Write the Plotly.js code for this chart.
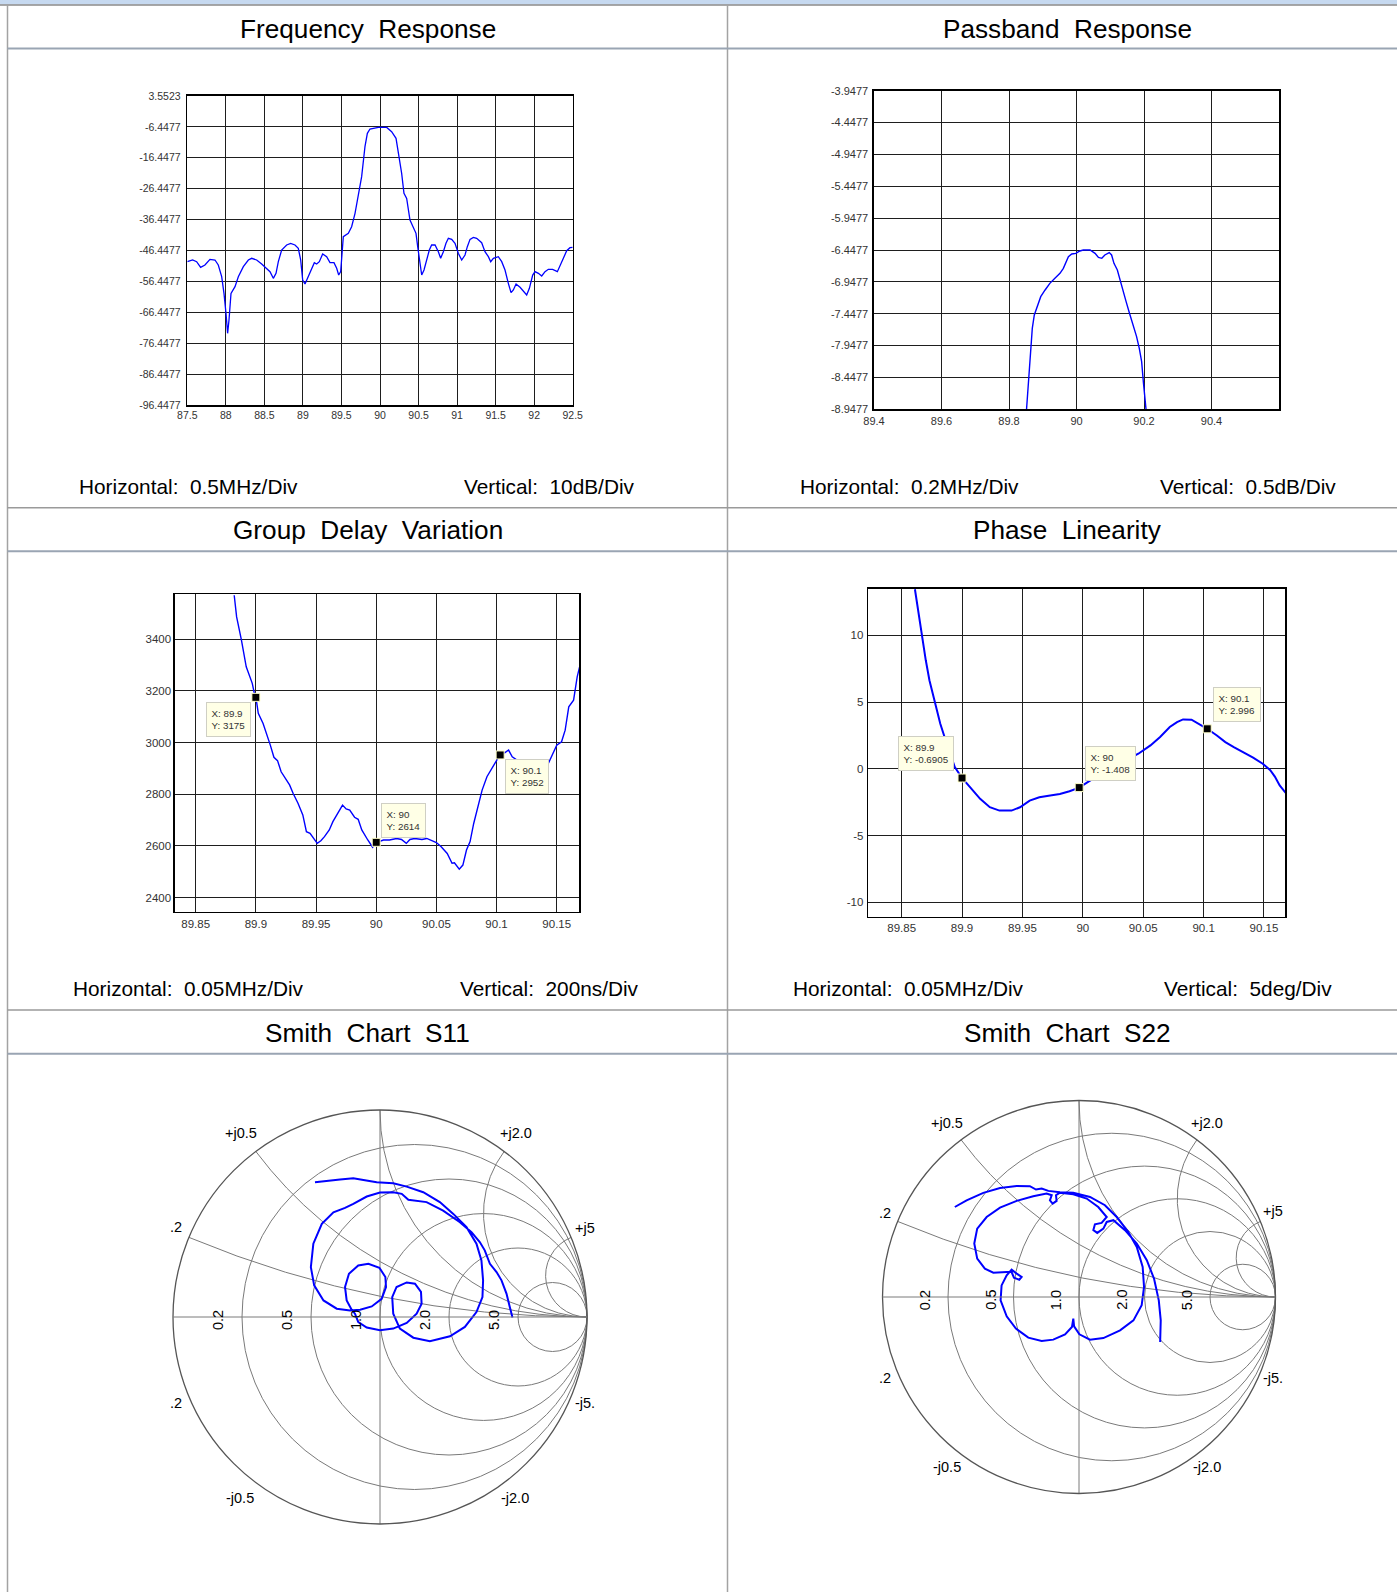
<!DOCTYPE html>
<html>
<head>
<meta charset="utf-8">
<script src="https://cdn.plot.ly/plotly-3.0.1.min.js"></script>
<style>
  html, body { margin: 0; padding: 0; background: #ffffff; }
  #chart { width: 1397px; height: 1592px; }
</style>
</head>
<body>
<div id="chart"></div>
<script>
// ---------------- DATA ----------------
// Frequency Response (MHz, dB)
const freqMHz = [87.500,87.569,87.621,87.673,87.729,87.794,87.859,87.902,87.946,87.976,88.002,88.023,88.041,88.067,88.119,88.162,88.227,88.292,88.335,88.400,88.465,88.529,88.573,88.616,88.651,88.681,88.724,88.789,88.841,88.897,88.940,88.971,88.997,89.027,89.070,89.113,89.148,89.178,89.213,89.256,89.308,89.351,89.403,89.438,89.464,89.490,89.524,89.589,89.632,89.676,89.719,89.762,89.805,89.836,89.870,89.978,90.087,90.151,90.208,90.238,90.281,90.311,90.346,90.389,90.433,90.467,90.489,90.519,90.541,90.571,90.606,90.640,90.670,90.714,90.757,90.787,90.822,90.856,90.887,90.930,90.973,91.016,91.060,91.103,91.133,91.168,91.211,91.254,91.319,91.362,91.406,91.436,91.471,91.535,91.579,91.622,91.665,91.700,91.730,91.765,91.817,91.860,91.903,91.938,91.981,92.011,92.055,92.098,92.141,92.184,92.240,92.301,92.336,92.379,92.422,92.465,92.500];
const freqDb = [-50.06,-49.52,-50.06,-51.89,-51.14,-49.31,-49.52,-51.14,-54.92,-60.31,-66.78,-73.25,-68.94,-60.31,-58.15,-54.92,-51.68,-49.52,-48.98,-49.52,-50.82,-52.22,-53.30,-55.45,-53.84,-50.06,-46.29,-44.67,-44.13,-44.67,-45.75,-49.52,-56.00,-57.29,-54.92,-52.22,-50.38,-50.82,-50.06,-47.58,-48.44,-50.38,-50.38,-52.22,-54.38,-53.30,-41.97,-40.89,-38.74,-34.42,-27.95,-22.55,-12.84,-8.53,-7.13,-6.62,-6.62,-7.99,-10.15,-15.00,-21.48,-27.95,-29.57,-36.58,-38.74,-40.89,-45.21,-51.68,-54.38,-52.76,-49.52,-46.29,-44.67,-44.67,-46.83,-48.98,-46.83,-44.13,-42.51,-42.83,-44.13,-47.36,-49.52,-47.90,-45.21,-42.83,-42.19,-42.51,-43.91,-46.83,-48.44,-50.06,-48.98,-48.44,-50.06,-52.76,-57.07,-60.09,-59.23,-57.29,-58.37,-59.77,-60.85,-58.69,-54.38,-53.30,-53.84,-54.70,-53.30,-52.54,-52.54,-53.30,-51.14,-48.98,-46.50,-45.53,-45.42];
const freqXTicks = [87.5,88,88.5,89,89.5,90,90.5,91,91.5,92,92.5];
const freqXText = ['87.5','88','88.5','89','89.5','90','90.5','91','91.5','92','92.5'];
const freqYTicks = [-96.4477,-86.4477,-76.4477,-66.4477,-56.4477,-46.4477,-36.4477,-26.4477,-16.4477,-6.4477,3.5523];
const freqYText = ['-96.4477','-86.4477','-76.4477','-66.4477','-56.4477','-46.4477','-36.4477','-26.4477','-16.4477','-6.4477','3.5523'];

// Passband Response (MHz, dB)
const passMHz = [89.852,89.857,89.862,89.869,89.875,89.884,89.894,89.907,89.921,89.936,89.951,89.961,89.969,89.976,89.986,89.998,90.010,90.020,90.040,90.055,90.065,90.075,90.084,90.097,90.104,90.111,90.121,90.129,90.137,90.147,90.157,90.166,90.178,90.186,90.193,90.198,90.203,90.206];
const passDb = [-8.948,-8.566,-8.043,-7.677,-7.468,-7.337,-7.180,-7.075,-6.971,-6.892,-6.814,-6.735,-6.631,-6.552,-6.511,-6.500,-6.463,-6.448,-6.448,-6.500,-6.563,-6.578,-6.526,-6.489,-6.526,-6.657,-6.761,-6.918,-7.101,-7.258,-7.441,-7.598,-7.807,-7.990,-8.200,-8.513,-8.827,-8.948];
const passXTicks = [89.4,89.6,89.8,90,90.2,90.4];
const passXText = ['89.4','89.6','89.8','90','90.2','90.4'];
const passYTicks = [-8.9477,-8.4477,-7.9477,-7.4477,-6.9477,-6.4477,-5.9477,-5.4477,-4.9477,-4.4477,-3.9477];
const passYText = ['-8.9477','-8.4477','-7.9477','-7.4477','-6.9477','-6.4477','-5.9477','-5.4477','-4.9477','-4.4477','-3.9477'];

// Group Delay Variation (MHz, ns)
const gdMHz = [89.882,89.884,89.888,89.892,89.897,89.899,89.900,89.902,89.906,89.909,89.912,89.915,89.918,89.921,89.925,89.928,89.931,89.935,89.939,89.942,89.945,89.948,89.951,89.954,89.957,89.961,89.964,89.968,89.972,89.975,89.978,89.982,89.985,89.988,89.991,89.993,89.997,90.000,90.006,90.011,90.017,90.021,90.025,90.028,90.032,90.038,90.042,90.046,90.050,90.054,90.059,90.063,90.065,90.069,90.072,90.075,90.078,90.081,90.084,90.088,90.092,90.096,90.100,90.103,90.107,90.110,90.113,90.117,90.125,90.135,90.143,90.147,90.150,90.154,90.157,90.160,90.164,90.167,90.169];
const gdNs = [3570,3486,3396,3293,3229,3184,3176,3113,3074,3035,2990,2943,2930,2887,2855,2836,2803,2765,2720,2655,2649,2629,2610,2620,2636,2662,2694,2726,2758,2743,2739,2711,2703,2662,2636,2623,2595,2613,2623,2623,2629,2625,2610,2625,2629,2625,2629,2620,2613,2597,2571,2533,2535,2510,2526,2584,2617,2687,2739,2816,2868,2900,2932,2954,2961,2971,2945,2932,2919,2913,2919,2957,2990,3003,3048,3138,3164,3254,3293];
const gdMarkX = [89.9, 90.0, 90.103];
const gdMarkY = [3175, 2614, 2952];
const gdMarkXText = ['89.9', '90', '90.1'];
const gdXTicks = [89.85,89.9,89.95,90,90.05,90.1,90.15];
const gdXText = ['89.85','89.9','89.95','90','90.05','90.1','90.15'];
const gdYTicks = [2400,2600,2800,3000,3200,3400];

// Phase Linearity (MHz, deg)
const phMHz = [89.861,89.864,89.867,89.870,89.873,89.878,89.882,89.886,89.890,89.894,89.900,89.907,89.915,89.923,89.931,89.941,89.948,89.956,89.964,89.973,89.981,89.989,89.997,90.006,90.014,90.046,90.056,90.064,90.072,90.078,90.083,90.090,90.097,90.103,90.111,90.118,90.125,90.133,90.141,90.149,90.155,90.159,90.163,90.168];
const phDeg = [13.45,11.63,9.88,8.13,6.63,4.88,3.38,2.25,1.25,0.13,-0.69,-1.38,-2.25,-2.88,-3.13,-3.13,-2.88,-2.38,-2.13,-2.00,-1.88,-1.68,-1.41,-0.88,-0.38,1.13,1.75,2.38,3.13,3.50,3.70,3.68,3.33,3.00,2.50,2.00,1.63,1.25,0.83,0.38,-0.08,-0.58,-1.25,-1.80];
const phMarkX = [89.9, 89.997, 90.103];
const phMarkY = [-0.6905, -1.408, 2.996];
const phMarkXText = ['89.9', '90', '90.1'];
const phXTicks = [89.85,89.9,89.95,90,90.05,90.1,90.15];
const phXText = ['89.85','89.9','89.95','90','90.05','90.1','90.15'];
const phYTicks = [-10,-5,0,5,10];

// Smith charts: reflection coefficient (Gamma)
const s11Re = [-0.314,-0.193,-0.129,-0.080,-0.016,0.064,0.129,0.209,0.289,0.354,0.418,0.466,0.490,0.498,0.495,0.466,0.410,0.338,0.241,0.161,0.096,0.064,0.059,0.080,0.129,0.169,0.198,0.201,0.177,0.129,0.064,0.000,-0.064,-0.105,-0.121,-0.137,-0.161,-0.169,-0.150,-0.105,-0.056,-0.003,0.026,0.029,0.008,-0.040,-0.096,-0.145,-0.209,-0.273,-0.318,-0.334,-0.322,-0.281,-0.225,-0.169,-0.129,-0.064,0.000,0.064,0.105,0.137,0.225,0.305,0.386,0.442,0.482,0.506,0.531,0.563,0.587,0.611,0.627,0.640];
const s11Im = [0.651,0.664,0.670,0.662,0.651,0.646,0.630,0.603,0.555,0.498,0.434,0.354,0.273,0.177,0.096,0.024,-0.048,-0.093,-0.117,-0.100,-0.056,0.016,0.096,0.145,0.167,0.161,0.121,0.064,0.016,-0.029,-0.056,-0.064,-0.051,-0.024,0.016,0.035,0.080,0.145,0.209,0.249,0.257,0.238,0.193,0.145,0.088,0.051,0.035,0.032,0.040,0.080,0.153,0.241,0.354,0.450,0.506,0.527,0.547,0.582,0.601,0.603,0.595,0.566,0.555,0.514,0.458,0.410,0.362,0.322,0.257,0.217,0.177,0.113,0.048,-0.003];
const s22Re = [-0.632,-0.572,-0.487,-0.402,-0.317,-0.250,-0.219,-0.190,-0.156,-0.097,-0.029,0.056,0.132,0.192,0.251,0.294,0.324,0.331,0.319,0.277,0.209,0.124,0.056,0.002,-0.025,-0.029,-0.036,-0.071,-0.131,-0.190,-0.258,-0.321,-0.368,-0.399,-0.394,-0.368,-0.343,-0.317,-0.292,-0.304,-0.331,-0.343,-0.368,-0.436,-0.479,-0.518,-0.533,-0.518,-0.470,-0.402,-0.317,-0.233,-0.165,-0.139,-0.148,-0.134,-0.114,-0.117,-0.097,-0.029,0.039,0.098,0.141,0.115,0.081,0.073,0.093,0.124,0.141,0.175,0.234,0.294,0.345,0.382,0.406,0.416,0.413];
const s22Im = [0.458,0.492,0.530,0.555,0.565,0.564,0.547,0.552,0.540,0.533,0.530,0.509,0.467,0.407,0.331,0.255,0.153,0.051,-0.042,-0.119,-0.170,-0.209,-0.217,-0.190,-0.149,-0.110,-0.153,-0.190,-0.217,-0.224,-0.207,-0.161,-0.098,-0.017,0.059,0.110,0.139,0.119,0.102,0.088,0.098,0.127,0.127,0.124,0.144,0.195,0.272,0.348,0.407,0.455,0.489,0.513,0.526,0.518,0.492,0.475,0.489,0.518,0.531,0.523,0.501,0.458,0.407,0.377,0.370,0.340,0.326,0.348,0.382,0.391,0.340,0.272,0.187,0.093,-0.017,-0.119,-0.229];
const smithGrid = [0.2, 0.5, 1, 2, 5];
const smithRealLabels = ['0.2', '0.5', '1.0', '2.0', '5.0'];

// ---------------- HELPERS ----------------
const W = 1397, H = 1592;
const X = px => px / W;
const Y = py => 1 - py / H;
const FONT = 'Liberation Sans, Arial, Helvetica, sans-serif';

// Gamma -> normalized impedance, as needed by scattersmith
function toZ(gr, gi) {
  const re = [], im = [];
  for (let i = 0; i < gr.length; i++) {
    const a = gr[i], b = gi[i];
    const d = (1 - a) * (1 - a) + b * b;
    re.push((1 - a * a - b * b) / d);
    im.push((2 * b) / d);
  }
  return { re, im };
}

function axisX(l, r, range, tv, tt, fs, standoff, anchor) {
  return {
    domain: [X(l), X(r)], range: range, anchor: anchor,
    tickmode: 'array', tickvals: tv, ticktext: tt,
    showgrid: true, gridcolor: '#1e1e1e', gridwidth: 1,
    showline: true, mirror: true, linecolor: '#000', linewidth: 1.6,
    zeroline: false, ticks: '', ticklabelstandoff: standoff,
    tickfont: { family: FONT, size: fs, color: '#333' }, fixedrange: true
  };
}
function axisY(t, b, range, tv, tt, fs, standoff, anchor) {
  return {
    domain: [Y(b), Y(t)], range: range, anchor: anchor,
    tickmode: 'array', tickvals: tv, ticktext: tt,
    showgrid: true, gridcolor: '#1e1e1e', gridwidth: 1,
    showline: true, mirror: true, linecolor: '#000', linewidth: 1.6,
    zeroline: false, ticks: '', ticklabelstandoff: standoff,
    tickfont: { family: FONT, size: fs, color: '#333' }, fixedrange: true
  };
}

// ---------------- TRACES ----------------
const blue = '#0000FF';
const s11z = toZ(s11Re, s11Im);
const s22z = toZ(s22Re, s22Im);
const markerStyle = { symbol: 'square', size: 8, color: '#000', line: { color: '#FFFFC8', width: 1 } };

const traces = [
  { type: 'scatter', mode: 'lines', x: freqMHz, y: freqDb, xaxis: 'x', yaxis: 'y',
    line: { color: blue, width: 1.3 }, hoverinfo: 'skip' },
  { type: 'scatter', mode: 'lines', x: passMHz, y: passDb, xaxis: 'x2', yaxis: 'y2',
    line: { color: blue, width: 1.4 }, hoverinfo: 'skip' },
  { type: 'scatter', mode: 'lines', x: gdMHz, y: gdNs, xaxis: 'x3', yaxis: 'y3',
    line: { color: blue, width: 1.4 }, hoverinfo: 'skip' },
  { type: 'scatter', mode: 'markers', x: gdMarkX, y: gdMarkY, xaxis: 'x3', yaxis: 'y3',
    marker: markerStyle, hoverinfo: 'skip', cliponaxis: false },
  { type: 'scatter', mode: 'lines', x: phMHz, y: phDeg, xaxis: 'x4', yaxis: 'y4',
    line: { color: blue, width: 2.0 }, hoverinfo: 'skip' },
  { type: 'scatter', mode: 'markers', x: phMarkX, y: phMarkY, xaxis: 'x4', yaxis: 'y4',
    marker: markerStyle, hoverinfo: 'skip', cliponaxis: false },
  { type: 'scattersmith', mode: 'lines', real: s11z.re, imag: s11z.im, subplot: 'smith',
    line: { color: blue, width: 2 }, hoverinfo: 'skip' },
  { type: 'scattersmith', mode: 'lines', real: s22z.re, imag: s22z.im, subplot: 'smith2',
    line: { color: blue, width: 2 }, hoverinfo: 'skip' }
];

// ---------------- TABLE SHAPES ----------------
const shapes = [];
function line(x0, y0, x1, y1, color, w) {
  shapes.push({ type: 'line', xref: 'paper', yref: 'paper', layer: 'below',
    x0: X(x0), y0: Y(y0), x1: X(x1), y1: Y(y1), line: { color: color, width: w } });
}
shapes.push({ type: 'rect', xref: 'paper', yref: 'paper', layer: 'below',
  x0: 0, x1: 1, y0: Y(4.5), y1: 1, fillcolor: '#C6D9F0', line: { width: 0 } });
line(0, 5, W, 5, '#8a8a8a', 1.5);
line(7.5, 5, 7.5, H, '#a3a3a3', 1.5);
line(727.5, 5, 727.5, H, '#a3a3a3', 1.5);
line(7.5, 48.5, W, 48.5, '#9aa5b3', 2);
line(7.5, 507.7, W, 507.7, '#9a9a9a', 1.5);
line(7.5, 551.2, W, 551.2, '#9aa5b3', 2);
line(7.5, 1010, W, 1010, '#9a9a9a', 1.5);
line(7.5, 1053.8, W, 1053.8, '#9aa5b3', 2);

// Smith geometry (pixels)
const sm1 = { cx: 380, cy: 1317, R: 207 };
const sm2 = { cx: 1079, cy: 1297, R: 196.5 };
[sm1, sm2].forEach(s => line(s.cx, s.cy - s.R, s.cx, s.cy + s.R, '#7a7a7a', 1));

// ---------------- ANNOTATIONS ----------------
const ann = [];
function txt(t, x, y, size, xanchor, extra) {
  ann.push(Object.assign({ text: t, xref: 'paper', yref: 'paper', x: X(x), y: Y(y),
    xanchor: xanchor || 'center', yanchor: 'middle', showarrow: false,
    font: { family: FONT, size: size, color: '#000' } }, extra || {}));
}
// Headers
txt('Frequency\u00a0 Response', 367.5, 28.5, 26.2);
txt('Passband\u00a0 Response', 1067.5, 28.5, 26.2);
txt('Group\u00a0 Delay\u00a0 Variation', 367.5, 530, 26.2);
txt('Phase\u00a0 Linearity', 1067.5, 530, 26.2);
txt('Smith\u00a0 Chart\u00a0 S11', 367.5, 1032.5, 26.2);
txt('Smith\u00a0 Chart\u00a0 S22', 1067.5, 1032.5, 26.2);
// Scale captions
txt('Horizontal:\u00a0 0.5MHz/Div', 77, 486.5, 20.8, 'left');
txt('Vertical:\u00a0 10dB/Div', 462, 486.5, 20.8, 'left');
txt('Horizontal:\u00a0 0.2MHz/Div', 798, 486.5, 20.8, 'left');
txt('Vertical:\u00a0 0.5dB/Div', 1158, 486.5, 20.8, 'left');
txt('Horizontal:\u00a0 0.05MHz/Div', 71, 989, 20.8, 'left');
txt('Vertical:\u00a0 200ns/Div', 458, 989, 20.8, 'left');
txt('Horizontal:\u00a0 0.05MHz/Div', 791, 989, 20.8, 'left');
txt('Vertical:\u00a0 5deg/Div', 1162, 989, 20.8, 'left');

// Data tips
function tip(t, left, top) {
  ann.push({ text: t, xref: 'paper', yref: 'paper', x: X(left), y: Y(top),
    xanchor: 'left', yanchor: 'top', align: 'left', showarrow: false,
    bgcolor: '#FFFFE6', bordercolor: '#CFCFC4', borderwidth: 1, borderpad: 4.5,
    font: { family: FONT, size: 9.8, color: '#333' } });
}
const gdTipPos = [[206, 702], [381, 802.5], [504.5, 759.5]];
gdMarkX.forEach((v, i) => tip('X: ' + gdMarkXText[i] + '<br>Y: ' + gdMarkY[i], gdTipPos[i][0], gdTipPos[i][1]));
const phTipPos = [[897.5, 736], [1084.5, 746], [1212.5, 687]];
phMarkX.forEach((v, i) => tip('X: ' + phMarkXText[i] + '<br>Y: ' + phMarkY[i], phTipPos[i][0], phTipPos[i][1]));

// Smith labels
function smithLabels(s, imagPos) {
  smithGrid.forEach((r, i) => {
    const gx = (r - 1) / (r + 1);
    txt(smithRealLabels[i], s.cx + s.R * gx - 24 * s.R / 207, s.cy + 3, 14.5, 'center', { textangle: -90 });
  });
  imagPos.forEach(p => txt(p[0], p[1], p[2], 14.5, p[3] || 'center'));
}
smithLabels(sm1, [['+j0.5', 241, 1133], ['+j2.0', 516, 1133], ['.2', 184, 1227, 'right'], ['+j5', 573, 1228, 'left'],
                  ['-j0.5', 240, 1498], ['-j2.0', 515, 1498], ['.2', 184, 1403, 'right'], ['-j5.', 573, 1403, 'left']]);
smithLabels(sm2, [['+j0.5', 947, 1123], ['+j2.0', 1207, 1123], ['.2', 893, 1213, 'right'], ['+j5', 1261, 1211, 'left'],
                  ['-j0.5', 947, 1467], ['-j2.0', 1207, 1467], ['.2', 893, 1378, 'right'], ['-j5.', 1261, 1378, 'left']]);

function smithLayout(s) {
  const ax = {
    tickvals: smithGrid, showticklabels: false, showgrid: true,
    gridcolor: '#7a7a7a', gridwidth: 1, ticks: ''
  };
  return {
    domain: { x: [X(s.cx - s.R), X(s.cx + s.R)], y: [Y(s.cy + s.R), Y(s.cy - s.R)] },
    bgcolor: 'rgba(0,0,0,0)',
    realaxis: Object.assign({}, ax, { linecolor: '#7a7a7a', linewidth: 1 }),
    imaginaryaxis: Object.assign({}, ax, { linecolor: '#555', linewidth: 1.3 })
  };
}

const layout = {
  width: W, height: H,
  margin: { l: 0, r: 0, t: 0, b: 0, pad: 0 },
  paper_bgcolor: '#ffffff', plot_bgcolor: 'rgba(0,0,0,0)',
  showlegend: false, hovermode: false,
  font: { family: FONT, color: '#000' },
  xaxis:  axisX(187.3, 572.7, [87.5, 92.5], freqXTicks, freqXText, 10.5, 0, 'y'),
  yaxis:  axisY(96, 405, [-96.4477, 3.5523], freqYTicks, freqYText, 10.5, 3, 'x'),
  xaxis2: axisX(874, 1279, [89.4, 90.6], passXTicks, passXText, 11, 1, 'y2'),
  yaxis2: axisY(90.7, 409.3, [-8.9477, -3.9477], passYTicks, passYText, 11, 2, 'x2'),
  xaxis3: axisX(175, 579, [89.8328, 90.1685], gdXTicks, gdXText, 11.5, 1, 'y3'),
  yaxis3: axisY(594.3, 911.7, [2345.6, 3573.6], gdYTicks, gdYTicks.map(String), 11.5, 0, 'x3'),
  xaxis4: axisX(868.3, 1285, [89.8224, 90.1674], phXTicks, phXText, 11.5, 0, 'y4'),
  yaxis4: axisY(589, 916.7, [-11.08, 13.47], phYTicks, phYTicks.map(String), 11.5, 1, 'x4'),
  smith: smithLayout(sm1),
  smith2: smithLayout(sm2),
  shapes: shapes,
  annotations: ann
};

Plotly.newPlot('chart', traces, layout, { staticPlot: true, displayModeBar: false });
</script>
</body>
</html>
